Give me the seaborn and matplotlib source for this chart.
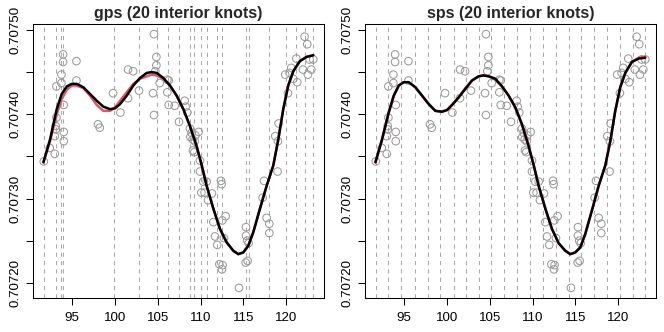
import numpy as np
import pandas as pd
import seaborn as sns
import matplotlib
matplotlib.use("Agg")
import matplotlib.pyplot as plt
from matplotlib.ticker import FixedLocator

# observed points (age, strontium ratio)
age = [91.70, 92.40, 92.98, 92.98, 93.09, 93.09, 93.17, 93.17, 93.76, 93.76,
       93.95, 93.95, 94.03, 94.03, 94.03, 95.51, 95.51, 98.03, 98.23, 99.78,
       100.64, 101.53, 101.53, 102.12, 102.81, 104.45, 104.56, 104.56, 104.84, 104.84,
       104.72, 105.23, 106.12, 106.28, 106.12, 106.28, 106.98, 107.48, 108.14, 108.26,
       108.45, 108.76, 108.96, 109.77, 108.80, 109.39, 109.07, 109.31, 109.11, 109.27,
       109.93, 109.93, 110.32, 110.71, 110.09, 110.47, 111.33, 110.86, 112.38, 112.46,
       111.49, 111.68, 111.95, 112.54, 112.92, 112.73, 112.19, 112.57, 112.50, 114.48,
       115.30, 115.30, 115.45, 115.61, 115.26, 115.49, 117.40, 117.24, 117.71, 118.02,
       118.02, 118.99, 118.72, 119.03, 119.11, 119.88, 120.19, 120.39, 120.58, 121.17,
       121.28, 120.82, 121.94, 122.14, 122.45, 122.53, 122.72, 122.92, 123.15]
ratio = [0.707344, 0.707360, 0.707353, 0.707374, 0.707382, 0.707386, 0.707396, 0.707433, 0.707437, 0.707447,
         0.707462, 0.707471, 0.707368, 0.707379, 0.707411, 0.707463, 0.707440, 0.707388, 0.707384, 0.707425,
         0.707402, 0.707453, 0.707419, 0.707451, 0.707428, 0.707425, 0.707495, 0.707399, 0.707468, 0.707458,
         0.707451, 0.707437, 0.707441, 0.707440, 0.707426, 0.707411, 0.707410, 0.707391, 0.707416, 0.707409,
         0.707402, 0.707383, 0.707378, 0.707379, 0.707373, 0.707375, 0.707370, 0.707368, 0.707357, 0.707355,
         0.707345, 0.707332, 0.707320, 0.707320, 0.707307, 0.707307, 0.707306, 0.707298, 0.707321, 0.707317,
         0.707272, 0.707255, 0.707245, 0.707274, 0.707279, 0.707253, 0.707222, 0.707221, 0.707216, 0.707194,
         0.707266, 0.707256, 0.707250, 0.707247, 0.707224, 0.707226, 0.707321, 0.707301, 0.707277, 0.707270,
         0.707259, 0.707332, 0.707374, 0.707368, 0.707389, 0.707447, 0.707425, 0.707449, 0.707455, 0.707466,
         0.707438, 0.707442, 0.707453, 0.707492, 0.707483, 0.707447, 0.707465, 0.707453, 0.707465]

# knots (boundary + 20 interior)
gps_knots = [91.70, 93.13, 93.76, 93.99, 99.86, 102.81, 104.95, 106.16, 107.48, 108.72, 109.23,
             110.01, 110.79, 111.87, 112.50, 115.30, 115.68, 118.02, 119.92, 121.09, 122.18, 123.15]
sps_knots = [91.70, 93.13, 94.69, 96.24, 97.76, 99.24, 100.79, 102.23, 103.71, 105.19, 106.70,
             108.18, 109.70, 111.21, 112.69, 114.21, 115.68, 117.20, 118.68, 120.19, 121.67, 123.15]

# fitted curves
grid = [91.66, 92.43, 93.21, 93.79, 94.38, 94.96, 95.54, 96.32, 97.10, 97.88, 98.65, 99.43,
        100.02, 100.60, 101.38, 102.15, 102.93, 103.71, 104.29, 104.88, 105.65, 106.43, 107.21,
        107.99, 108.76, 109.54, 110.12, 110.71, 111.49, 112.26, 113.04, 113.82, 114.40, 114.98,
        115.57, 116.15, 116.93, 117.71, 118.48, 119.07, 119.65, 120.23, 120.82, 121.59, 122.37, 123.15]
gps_black = [0.707343, 0.707370, 0.707406, 0.707424, 0.707433, 0.707436, 0.707436, 0.707432, 0.707424,
             0.707416, 0.707409, 0.707406, 0.707407, 0.707412, 0.707422, 0.707434, 0.707443, 0.707449,
             0.707450, 0.707449, 0.707443, 0.707434, 0.707422, 0.707406, 0.707386, 0.707362, 0.707340,
             0.707315, 0.707288, 0.707264, 0.707248, 0.707238, 0.707234, 0.707236, 0.707244, 0.707260,
             0.707288, 0.707315, 0.707339, 0.707370, 0.707406, 0.707434, 0.707451, 0.707463, 0.707468,
             0.707470]
gps_red = [0.707343, 0.707368, 0.707400, 0.707418, 0.707429, 0.707434, 0.707434, 0.707431, 0.707422,
           0.707411, 0.707404, 0.707404, 0.707408, 0.707416, 0.707426, 0.707436, 0.707442, 0.707445,
           0.707447, 0.707446, 0.707442, 0.707434, 0.707422, 0.707406, 0.707386, 0.707362, 0.707340,
           0.707315, 0.707288, 0.707264, 0.707248, 0.707238, 0.707234, 0.707236, 0.707244, 0.707260,
           0.707288, 0.707315, 0.707339, 0.707370, 0.707406, 0.707434, 0.707451, 0.707463, 0.707468,
           0.707470]
sps_black = [0.707343, 0.707370, 0.707402, 0.707422, 0.707434, 0.707438, 0.707438, 0.707432, 0.707422,
             0.707412, 0.707404, 0.707403, 0.707405, 0.707411, 0.707420, 0.707430, 0.707440, 0.707445,
             0.707446, 0.707445, 0.707442, 0.707433, 0.707422, 0.707408, 0.707388, 0.707362, 0.707340,
             0.707315, 0.707288, 0.707264, 0.707247, 0.707238, 0.707234, 0.707236, 0.707242, 0.707258,
             0.707286, 0.707315, 0.707339, 0.707368, 0.707404, 0.707432, 0.707449, 0.707462, 0.707466,
             0.707467]
sps_red = [0.707343, 0.707370, 0.707402, 0.707421, 0.707434, 0.707438, 0.707438, 0.707432, 0.707422,
           0.707412, 0.707404, 0.707403, 0.707405, 0.707411, 0.707420, 0.707431, 0.707440, 0.707445,
           0.707446, 0.707445, 0.707442, 0.707433, 0.707422, 0.707408, 0.707388, 0.707362, 0.707340,
           0.707315, 0.707288, 0.707264, 0.707247, 0.707238, 0.707234, 0.707236, 0.707242, 0.707258,
           0.707286, 0.707315, 0.707339, 0.707368, 0.707404, 0.707432, 0.707449, 0.707462, 0.707467,
           0.707468]

x_ticks = [95, 100, 105, 110, 115, 120]
y_ticks = [0.70720, 0.70725, 0.70730, 0.70735, 0.70740, 0.70745, 0.70750]
y_labels = ["0.70720", "", "0.70730", "", "0.70740", "", "0.70750"]

sns.set_style("ticks")
plt.rcParams["font.family"] = ["Liberation Sans", "DejaVu Sans"]

df_pts = pd.DataFrame({"age": age, "ratio": ratio})
df_fit = pd.DataFrame({"age": grid, "gps_black": gps_black, "gps_red": gps_red,
                       "sps_black": sps_black, "sps_red": sps_red})

fig = plt.figure(figsize=(6.64, 3.32), dpi=100)
ax1 = fig.add_axes([0.0497, 0.1024, 0.4383, 0.8253])
ax2 = fig.add_axes([0.5497, 0.1024, 0.4383, 0.8253])

panels = [(ax1, "gps", gps_knots), (ax2, "sps", sps_knots)]
xr = max(age) - min(age)
yr = max(ratio) - min(ratio)

for ax, name, knots in panels:
    for k in knots:
        ax.axvline(k, color="#a8a8a8", lw=0.75, ls=(0, (4, 4)), zorder=1)
    sns.scatterplot(data=df_pts, x="age", y="ratio", ax=ax, marker="o", s=30,
                    facecolors="none", edgecolor="#9a9a9a", linewidth=0.75, zorder=2)
    sns.lineplot(data=df_fit, x="age", y=name + "_red", ax=ax, color="#DF536B",
                 lw=1.8, estimator=None, sort=False, zorder=3)
    sns.lineplot(data=df_fit, x="age", y=name + "_black", ax=ax, color="black",
                 lw=1.8, estimator=None, sort=False, zorder=4)

    ax.set_xlim(min(age) - 0.04 * xr, max(age) + 0.04 * xr)
    ax.set_ylim(min(ratio) - 0.04 * yr, max(ratio) + 0.04 * yr)
    ax.xaxis.set_major_locator(FixedLocator(x_ticks))
    ax.yaxis.set_major_locator(FixedLocator(y_ticks))
    ax.set_yticklabels(y_labels, rotation=90, va="center")
    ax.tick_params(axis="both", direction="out", length=5, width=0.75,
                   labelsize=9.6, colors="black")
    ax.tick_params(axis="x", pad=5)
    ax.tick_params(axis="y", pad=3)
    ax.set_xlabel("")
    ax.set_ylabel("")
    ax.set_title(name + " (20 interior knots)", fontsize=11.5, fontweight="bold", pad=4)
    for sp in ax.spines.values():
        sp.set_visible(True)
        sp.set_linewidth(0.75)
        sp.set_color("black")

fig.savefig("out.png", dpi=100)
